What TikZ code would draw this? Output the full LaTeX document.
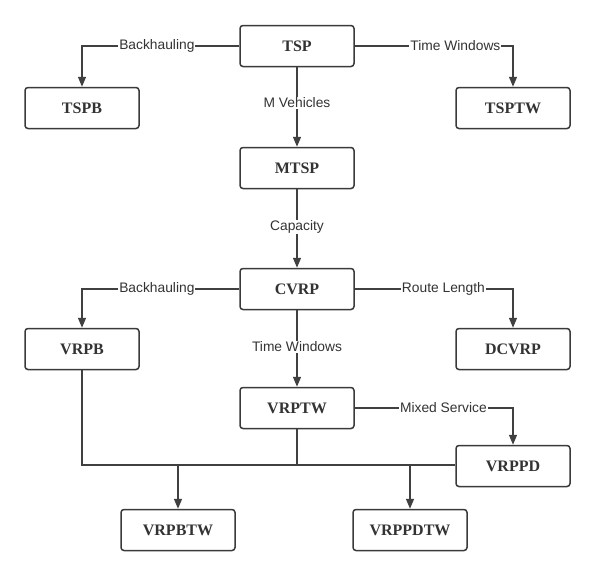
\documentclass[tikz,border=0pt]{standalone}
\usepackage{fontspec}
\setmainfont{Liberation Serif}
\setsansfont{Liberation Sans}
\usetikzlibrary{arrows.meta}
\definecolor{edge}{HTML}{404040}
\definecolor{boxline}{HTML}{3A3A3A}
\definecolor{txt}{HTML}{333333}
\tikzset{
  probbox/.style={draw=boxline, line width=1.5pt, rounded corners=3pt, minimum width=114pt, minimum height=41pt, inner sep=0pt, font=\fontsize{16}{18}\selectfont\bfseries, text=txt, fill=white},
  conn/.style={draw=edge, line width=1.4pt, -{Triangle[width=8pt,length=10pt]}},
  plain/.style={draw=edge, line width=1.4pt},
  lbl/.style={fill=white, inner sep=1pt, font=\sffamily\fontsize{13.8}{15}\selectfont, text=txt},
}
\begin{document}
\begin{tikzpicture}[x=1pt,y=-1pt]
\useasboundingbox (0,0) rectangle (594,570);
\node[probbox] (tsp) at (297,46) {TSP};
\node[probbox] (tspb) at (82,108) {TSPB};
\node[probbox] (tsptw) at (513,108) {TSPTW};
\node[probbox] (mtsp) at (297,168) {MTSP};
\node[probbox] (cvrp) at (297,289) {CVRP};
\node[probbox] (vrpb) at (82,349) {VRPB};
\node[probbox] (dcvrp) at (513,349) {DCVRP};
\node[probbox] (vrptw) at (297,408) {VRPTW};
\node[probbox] (vrppd) at (513,466) {VRPPD};
\node[probbox] (vrpbtw) at (178,530) {VRPBTW};
\node[probbox] (vrppdtw) at (410,530) {VRPPDTW};
\coordinate (j1) at (82,465);
\coordinate (j2) at (297,465);
\coordinate (j3) at (178,465);
\coordinate (j4) at (410,465);
% top level
\draw[conn] (tsp.west) -| node[lbl, pos=0.262] {Backhauling} (tspb.north);
\draw[conn] (tsp.east) -| node[lbl, pos=0.318] {Time Windows} (tsptw.north);
\draw[conn] (tsp.south) -- node[lbl, pos=0.45] {M Vehicles} (mtsp.north);
\draw[conn] (mtsp.south) -- node[lbl, pos=0.48] {Capacity} (cvrp.north);
\draw[conn] (cvrp.west) -| node[lbl, pos=0.262] {Backhauling} (vrpb.north);
\draw[conn] (cvrp.east) -| node[lbl, pos=0.28] {Route Length} (dcvrp.north);
\draw[conn] (cvrp.south) -- node[lbl, pos=0.48] {Time Windows} (vrptw.north);
\draw[conn] (vrptw.east) -| node[lbl, pos=0.28] {Mixed Service} (vrppd.north);
% merged lines
\draw[plain] (vrpb.south) -- (j1) -- (j2);
\draw[plain] (vrptw.south) -- (j2);
\draw[plain] (vrppd.west |- j2) -- (j2);
\draw[conn] (j3) -- (vrpbtw.north);
\draw[conn] (j4) -- (vrppdtw.north);
\end{tikzpicture}
\end{document}
